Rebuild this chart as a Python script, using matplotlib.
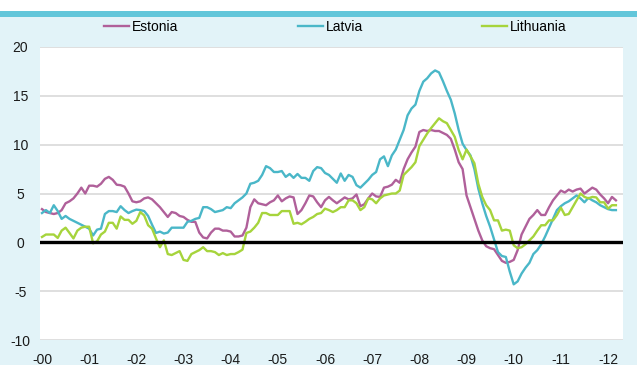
import numpy as np
import matplotlib
matplotlib.use("Agg")
import matplotlib.pyplot as plt
from matplotlib.patches import Rectangle

plt.rcParams['font.family'] = ['Liberation Sans Narrow', 'Liberation Sans', 'DejaVu Sans']
plt.rcParams['axes.unicode_minus'] = False

# monthly values, Jan 2000 .. Feb 2012
estonia = [
    3.4, 3.1, 3.0, 2.9, 3.0, 3.3, 4.0, 4.2, 4.5, 5.0, 5.6, 5.0,
    5.8, 5.8, 5.7, 6.0, 6.5, 6.7, 6.4, 5.9, 5.85, 5.7, 5.0, 4.2,
    4.1, 4.2, 4.5, 4.6, 4.4, 4.0, 3.6, 3.1, 2.6, 3.1, 3.0, 2.7,
    2.6, 2.3, 2.1, 2.1, 1.0, 0.5, 0.4, 1.0, 1.4, 1.4, 1.2, 1.2,
    1.1, 0.6, 0.6, 0.7, 1.5, 3.6, 4.4, 4.0, 3.9, 3.8, 4.1, 4.3,
    4.8, 4.2, 4.5, 4.7, 4.6, 2.9, 3.3, 4.0, 4.8, 4.7, 4.1, 3.6,
    4.3, 4.65, 4.3, 4.0, 4.3, 4.6, 4.4, 4.5, 4.9, 3.7, 3.9, 4.5,
    5.0, 4.7, 4.65, 5.6, 5.7, 5.9, 6.4, 6.1, 7.5, 8.5, 9.2, 9.8,
    11.3, 11.5, 11.4, 11.5, 11.4, 11.4, 11.2, 11.0, 10.6, 9.5, 8.2, 7.5,
    4.8, 3.6, 2.4, 1.2, 0.2, -0.4, -0.6, -0.7, -1.3, -1.9, -2.1, -2.0,
    -1.8, -0.8, 0.8, 1.6, 2.4, 2.8, 3.3, 2.8, 2.8, 3.6, 4.3, 4.8,
    5.3, 5.1, 5.4, 5.2, 5.4, 5.5, 5.0, 5.3, 5.6, 5.4, 4.9, 4.5,
    4.0, 4.65, 4.3,
]
latvia = [
    3.0, 3.3, 3.0, 3.8, 3.2, 2.4, 2.7, 2.4, 2.2, 2.0, 1.8, 1.6,
    1.4, 0.7, 1.3, 1.4, 2.9, 3.2, 3.2, 3.1, 3.7, 3.3, 3.0, 3.2,
    3.35, 3.3, 3.2, 2.7, 1.8, 0.96, 1.1, 0.9, 1.0, 1.5, 1.5, 1.5,
    1.5, 2.1, 2.2, 2.4, 2.5, 3.6, 3.6, 3.4, 3.1, 3.2, 3.3, 3.6,
    3.5, 4.0, 4.3, 4.6, 5.0, 6.0, 6.1, 6.3, 6.9, 7.8, 7.6, 7.2,
    7.2, 7.3, 6.7, 7.0, 6.6, 7.0, 6.6, 6.6, 6.3, 7.3, 7.7, 7.6,
    7.1, 6.9, 6.5, 6.1, 7.05, 6.3, 6.9, 6.7, 5.85, 5.6, 6.0, 6.4,
    6.9, 7.2, 8.5, 8.8, 7.8, 8.9, 9.5, 10.5, 11.5, 13.0, 13.7, 14.1,
    15.5, 16.45, 16.8, 17.3, 17.6, 17.4, 16.5, 15.5, 14.6, 13.2, 11.5, 10.1,
    9.45, 8.9, 7.5, 5.5, 4.0, 2.7, 1.6, 0.3, -1.0, -1.4, -1.5, -3.0,
    -4.3, -4.0, -3.2, -2.6, -2.1, -1.2, -0.8, -0.2, 0.6, 1.5, 2.4, 3.3,
    3.7, 4.0, 4.2, 4.5, 4.8, 4.5, 4.1, 4.55, 4.3, 4.1, 3.8, 3.6,
    3.4, 3.3, 3.3,
]
lithuania = [
    0.55, 0.8, 0.8, 0.8, 0.45, 1.2, 1.5, 0.96, 0.4, 1.2, 1.5, 1.6,
    1.6, -0.1, 0.1, 0.8, 1.1, 2.0, 2.0, 1.4, 2.65, 2.3, 2.3, 1.9,
    2.2, 3.1, 2.75, 1.75, 1.4, 0.4, -0.5, 0.2, -1.2, -1.3, -1.1, -0.9,
    -1.8, -1.9, -1.2, -1.0, -0.8, -0.5, -0.9, -0.9, -1.0, -1.3, -1.1, -1.3,
    -1.2, -1.2, -1.0, -0.75, 0.96, 1.1, 1.5, 2.0, 3.0, 3.0, 2.8, 2.8,
    2.8, 3.2, 3.2, 3.2, 1.9, 2.0, 1.85, 2.1, 2.4, 2.6, 2.9, 3.0,
    3.45, 3.3, 3.1, 3.3, 3.6, 3.6, 4.3, 4.3, 4.0, 3.3, 3.6, 4.5,
    4.4, 4.0, 4.5, 4.8, 4.9, 5.0, 5.0, 5.3, 6.9, 7.3, 7.7, 8.2,
    9.85, 10.5, 11.15, 11.7, 12.2, 12.7, 12.4, 12.2, 11.5, 10.8, 9.45, 8.5,
    9.5, 8.8, 8.1, 6.0, 4.65, 3.8, 3.3, 2.25, 2.25, 1.2, 1.3, 1.2,
    -0.3, -0.6, -0.5, -0.2, 0.2, 0.6, 1.2, 1.75, 1.75, 2.25, 2.25, 2.8,
    3.55, 2.8, 2.9, 3.6, 4.3, 5.0, 4.65, 4.5, 4.65, 4.6, 4.1, 4.1,
    3.45, 3.8, 3.8,
]
years = list(range(2000, 2013))
year_labels = ['-%02d' % (y % 100) for y in years]

t = 2000 + np.arange(len(estonia)) / 12.0

fig = plt.figure(figsize=(6.37, 3.65), dpi=100)
fig.patch.set_facecolor('#e2f3f8')
# white strip and cyan band along the top edge
fig.patches.append(Rectangle((0, 1 - 11 / 365), 1, 11 / 365, transform=fig.transFigure,
                             facecolor='white', edgecolor='none', zorder=0))
fig.patches.append(Rectangle((0, 1 - 17 / 365), 1, 6 / 365, transform=fig.transFigure,
                             facecolor='#62c6da', edgecolor='none', zorder=0))

ax = fig.add_axes([40 / 637, 25 / 365, 583 / 637, 293 / 365])
ax.set_facecolor('white')

ax.plot(t, estonia, color='#b0609a', lw=1.7, label='Estonia', zorder=3)
ax.plot(t, latvia, color='#4ab7c8', lw=1.7, label='Latvia', zorder=3)
ax.plot(t, lithuania, color='#a6d43c', lw=1.7, label='Lithuania', zorder=4)
ax.axhline(0, color='black', lw=2.4, zorder=5)

ax.set_ylim(-10, 20)
ax.set_xlim(2000 - 2 / 47.17, 2000 + 581 / 47.17)
ax.set_yticks(range(-10, 21, 5))
ax.set_xticks(years)
ax.set_xticklabels(year_labels)
ax.grid(axis='y', color='#d9d9d9', lw=1.2, zorder=1)
ax.set_axisbelow(True)
for s in ax.spines.values():
    s.set_visible(False)
ax.tick_params(axis='both', length=0, labelsize=10, colors='#1a1a1a')
ax.tick_params(axis='y', pad=14)
ax.tick_params(axis='x', pad=9)
for lab in ax.get_yticklabels():
    lab.set_horizontalalignment('center')

ax.legend(loc='center', bbox_to_anchor=(0.5 + 17 / 637, 1 - 27 / 365), bbox_transform=fig.transFigure,
          ncol=3, frameon=False, fontsize=10, handlelength=1.8, handletextpad=0.2,
          columnspacing=8.6)

fig.savefig('out.png', dpi=100, facecolor=fig.get_facecolor())
